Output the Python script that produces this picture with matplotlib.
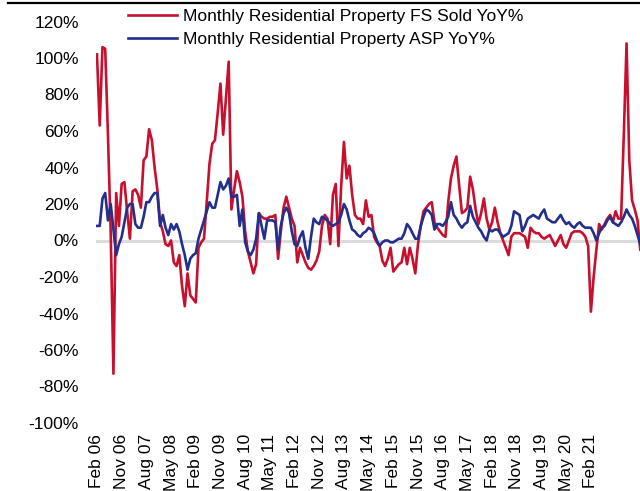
import matplotlib
matplotlib.use('Agg')
import matplotlib.pyplot as plt
from matplotlib.lines import Line2D

plt.rcParams['font.family'] = ['Liberation Sans', 'DejaVu Sans']

# monthly YoY %, starting Feb 06
fs_sold = [102, 63, 106, 105, 58, 5, -73, 26, 8, 31,
           32, 16, 1, 27, 28, 25, 18, 44, 46, 61,
           55, 40, 28, 10, 5, -2, -3, 0, -12, -14,
           -8, -25, -36, -18, -30, -32, -34, -4, -1, 1,
           21, 42, 53, 55, 70, 86, 58, 78, 98, 17,
           28, 38, 32, 24, 5, -6, -12, -18, -13, 15,
           13, 12, 12, 13, 13, 14, -10, 5, 18, 24,
           18, 12, 8, -12, -4, -8, -12, -15, -16, -14,
           -11, -6, 8, 14, 12, -2, 25, 31, -3, 30,
           54, 34, 41, 25, 14, 12, 12, 9, 22, 13,
           14, 2, -1, -3, -11, -14, -10, -4, -17, -15,
           -13, -12, -4, -13, -4, -10, -18, -2, 8, 16,
           18, 20, 21, 10, 7, 5, 3, 2, 21, 34,
           41, 46, 30, 15, 16, 18, 35, 28, 17, 9,
           15, 23, 12, 6, 10, 18, 10, 4, 0, -4,
           -8, 2, 4, 4, 4, 3, 2, -4, 7, 5,
           4, 4, 2, 1, 2, 3, 0, -3, 0, 3,
           -2, -4, 0, 4, 5, 5, 5, 4, 2, -3,
           -39, -20, -5, 9, 6, 9, 12, 14, 10, 16,
           12, 12, 58, 108, 44, 22, 17, 11, -5]

asp = [8, 8, 23, 26, 11, 20, 6, -8, -2, 2,
       10, 18, 20, 20, 9, 7, 7, 13, 21, 21,
       24, 26, 26, 8, 14, 7, 3, 9, 6, 9,
       5, -2, -8, -16, -10, -8, -7, 1, 6, 11,
       16, 21, 18, 18, 25, 32, 28, 30, 34, 24,
       24, 25, 8, 17, -1, -6, -8, -5, 1, 15,
       8, 1, 11, 11, 11, 10, -5, 8, 15, 18,
       15, 5, -2, -3, 2, 5, -4, -10, 2, 12,
       10, 9, 13, 12, 11, 9, 8, 9, 10, 14,
       20, 17, 11, 6, 5, 3, 2, 4, 5, 7,
       6, 4, 0, -3, -1, 0, 0, -1, -1, 0,
       1, 1, 4, 9, 7, 4, 1, 1, 8, 13,
       17, 16, 14, 6, 9, 9, 8, 10, 13, 21,
       14, 12, 9, 7, 9, 10, 19, 13, 10, 7,
       5, 2, 0, 6, 5, 6, 6, 4, 2, 3,
       4, 8, 16, 15, 14, 5, 8, 12, 13, 14,
       13, 12, 15, 17, 12, 11, 10, 10, 12, 14,
       11, 9, 10, 8, 7, 9, 10, 8, 7, 7,
       7, 4, 0, 4, 7, 8, 11, 13, 10, 9,
       8, 10, 13, 17, 14, 12, 8, 3, -2]

tick_labels = ['Feb 06', 'Nov 06', 'Aug 07', 'May 08', 'Feb 09', 'Nov 09', 'Aug 10',
               'May 11', 'Feb 12', 'Nov 12', 'Aug 13', 'May 14', 'Feb 15', 'Nov 15',
               'Aug 16', 'May 17', 'Feb 18', 'Nov 18', 'Aug 19', 'May 20', 'Feb 21']
y_ticks = [-100, -80, -60, -40, -20, 0, 20, 40, 60, 80, 100, 120]

RED = '#C8102E'
BLUE = '#232F8A'
FS = 12.5

fig = plt.figure(figsize=(6.4, 4.91), dpi=100)
ax = fig.add_axes([95.6 / 640, 1 - 423 / 491, 1 - 95.6 / 640, (423 - 21.5) / 491])

x = list(range(len(fs_sold)))
ax.axhline(0, color='#D9D9D9', lw=2, zorder=1)
ax.plot(x, fs_sold, color=RED, lw=1.9, label='Monthly Residential Property FS Sold YoY%', zorder=3)
ax.plot(list(range(len(asp))), asp, color=BLUE, lw=1.9, label='Monthly Residential Property ASP YoY%', zorder=4)

ax.set_xlim(-0.5, 197.9)
ax.set_ylim(-100, 120)
ax.set_yticks(y_ticks)
ax.set_yticklabels([f'{v}%' for v in y_ticks], fontsize=FS)
ax.set_xticks(range(0, 9 * len(tick_labels), 9))
ax.set_xticklabels(tick_labels, rotation=90, fontsize=FS)
ax.tick_params(axis='y', length=0, pad=12)
ax.tick_params(axis='x', length=0, pad=8)
for s in ax.spines.values():
    s.set_visible(False)

fig.legend(loc='upper left', bbox_to_anchor=(128 / 640, 1 - 9 / 491), frameon=False,
           fontsize=FS, handlelength=2.85, handletextpad=0.3, labelspacing=0.45,
           borderpad=0, borderaxespad=0)

fig.add_artist(Line2D([8 / 640, 1], [1 - 3 / 491, 1 - 3 / 491], color='black', lw=1.6,
                      transform=fig.transFigure))

fig.savefig('out.png', dpi=100)
